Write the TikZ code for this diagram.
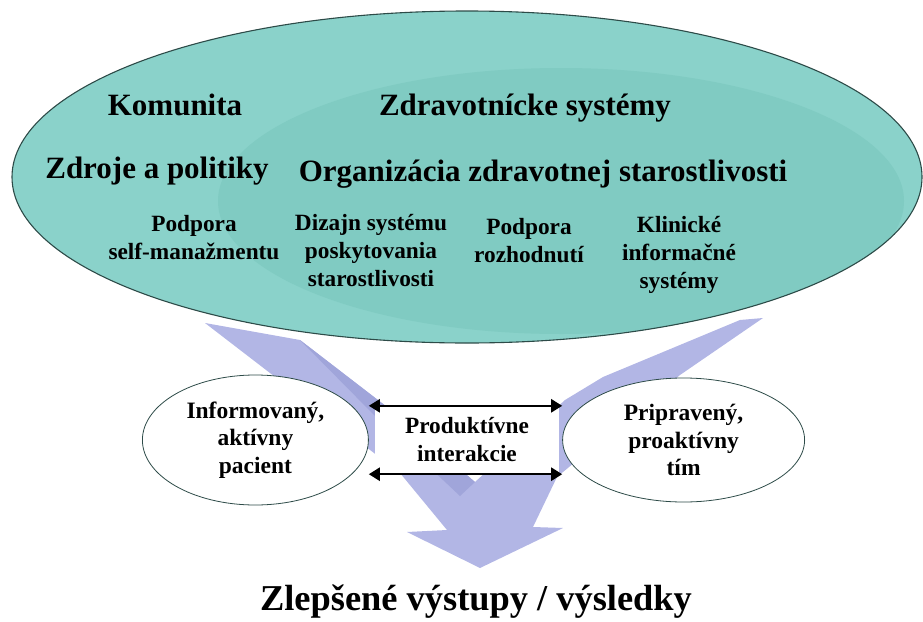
\documentclass[tikz,border=0pt]{standalone}
\usepackage{fontspec}
\setmainfont{Liberation Serif}
\usetikzlibrary{arrows.meta, positioning, shapes.geometric}

\definecolor{tealout}{RGB}{138,210,202}
\definecolor{tealin}{RGB}{128,203,194}
\definecolor{tealline}{RGB}{45,75,72}
\definecolor{lavender}{RGB}{178,182,229}
\definecolor{lavdark}{RGB}{160,165,218}

\begin{document}
\begin{tikzpicture}[x=1pt, y=-1pt]
	\tikzset{heading/.style={font=\fontsize{31}{36}\selectfont\bfseries, inner sep=0pt, anchor=base},
		item/.style={font=\fontsize{23.3}{28}\selectfont\bfseries, align=center, inner sep=0pt},
		actor/.style={ellipse, draw=tealline, thick, fill=white, inner sep=0pt, align=center, font=\fontsize{23.5}{27.5}\selectfont\bfseries},
		link/.style={{Triangle[length=11pt,width=13pt]}-{Triangle[length=11pt,width=13pt]}, line width=2.4pt} }

	\useasboundingbox (0,0) rectangle (923,621);

	% the big arrow
	\fill[lavender] (205,323) -- (300,340) -- (387,407) -- (475,482) -- (565,400) -- (603,377) -- (740,320) -- (763,318) -- (680,375) -- (557,477) -- (533,527) -- (563,528) -- (480,568) -- (407,532) -- (447,530) -- (400,473) -- cycle;
	\fill[lavdark] (300,340) -- (387,407) -- (475,482) -- (460,496) -- (375,416) -- cycle;

	% systems
	\node[ellipse, fill=tealout, minimum width=910pt, minimum height=332pt] (sys) at (467,177) {};
	\begin{scope}
		\clip (467,177) ellipse [x radius=455, y radius=166];
		\fill[tealin] (561,201) ellipse [x radius=343, y radius=133];
	\end{scope}
	\draw[tealline, line width=1.1pt] (467,177) ellipse [x radius=455, y radius=166];

	\node[heading] (kom) at (175,115) {Komunita};
	\node[heading] (zs) at (525,115) {Zdravotnícke systémy};
	\node[heading] (zp) at (157,178) {Zdroje a politiky};
	\node[heading] (org) at (543,181) {Organizácia zdravotnej starostlivosti};
	\node[item] (self) at (194,238) {Podpora\\self-manažmentu};
	\node[item] (diz) at (371,251) {Dizajn systému\\poskytovania\\starostlivosti};
	\node[item] (rozh) at (529,241) {Podpora\\rozhodnutí};
	\node[item] (info) at (679,255) {Klinické\\informačné\\systémy};

	% interaction
	\node[item, fill=white, minimum width=184pt, minimum height=68pt] (inter) at (467,440) {Produktívne\\interakcie};
	\node[actor, minimum width=226pt, minimum height=130pt, left=6pt of inter] (pac) {Informovaný,\\aktívny\\pacient};
	\node[actor, minimum width=242pt, minimum height=124pt, right=3pt of inter] (tim) {Pripravený,\\proaktívny\\tím};

	\draw[link] (pac.east |- inter.north) -- (tim.west |- inter.north);
	\draw[link] (pac.east |- inter.south) -- (tim.west |- inter.south);

	\node[anchor=base, font=\fontsize{36.4}{40}\selectfont\bfseries] (result) at (476,610) {Zlepšené výstupy / výsledky};
\end{tikzpicture}
\end{document}
